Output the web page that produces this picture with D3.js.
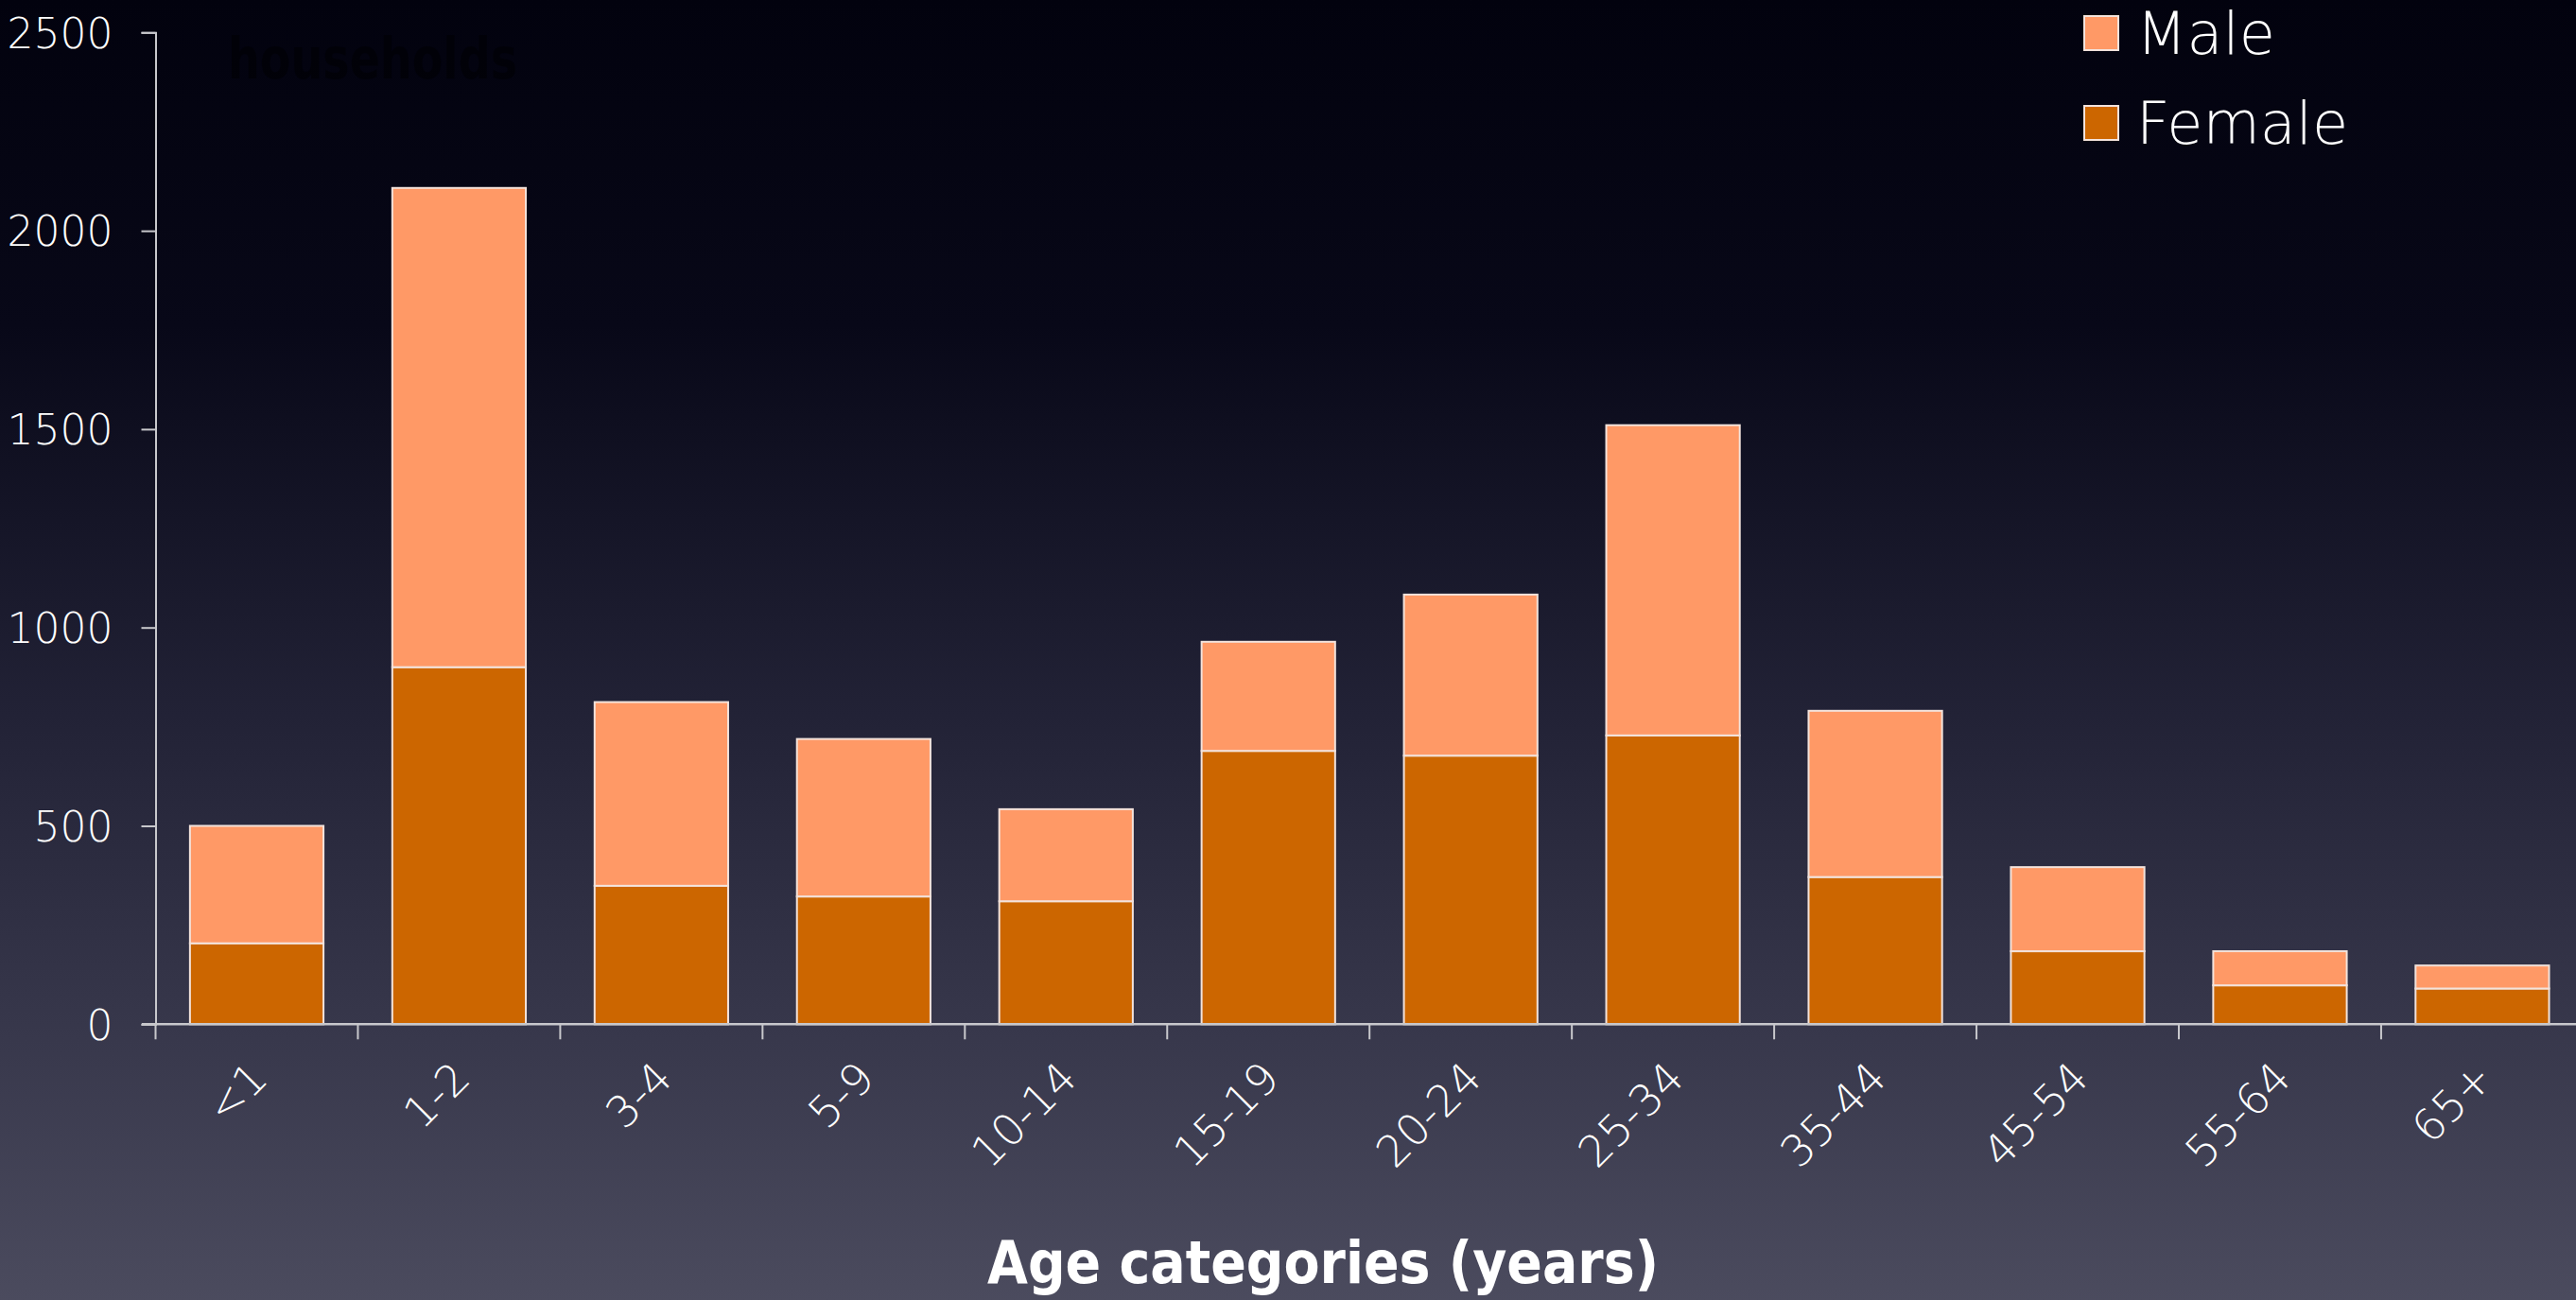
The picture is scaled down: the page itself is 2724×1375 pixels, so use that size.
<!DOCTYPE html>
<html>
<head>
<meta charset="utf-8">
<script src="https://cdn.jsdelivr.net/npm/d3@7"></script>
<style>
  html, body { margin: 0; padding: 0; background: #02020e; overflow: hidden; }
  svg { display: block; }
</style>
</head>
<body>
<svg id="chart" width="2724" height="1375"></svg>
<script>
// ---- data ----
const categories = ["<1", "1-2", "3-4", "5-9", "10-14", "15-19", "20-24", "25-34", "35-44", "45-54", "55-64", "65+"];
const femaleValues = [204, 900, 349, 322, 310, 689, 677, 728, 371, 184, 98, 90];
const maleValues   = [296, 1208, 463, 397, 232, 275, 406, 782, 419, 212, 86, 58];
const yTickValues = [0, 500, 1000, 1500, 2000, 2500];
const seriesNames = ["Male", "Female"];
const xTitle = "Age categories (years)";
const ghostTitle = "households";

// ---- layout ----
const W = 2724, H = 1375;
const x0 = 164.5, x1 = 2731.9, yBottom = 1083.3, yTop = 34.3;
const colMale = "#ff9966", colFemale = "#cc6600";
const fontFam = "'DejaVu Sans', 'Open Sans', sans-serif";

const svg = d3.select("#chart");
const defs = svg.append("defs");
const grad = defs.append("linearGradient").attr("id", "bg").attr("x1", 0).attr("y1", 0).attr("x2", 0).attr("y2", 1);
[[0, "#02020e"], [0.25, "#080818"], [0.55, "#222236"], [0.8, "#38384c"], [1, "#4b4b5e"]]
  .forEach(([o, c]) => grad.append("stop").attr("offset", o).attr("stop-color", c));
svg.append("rect").attr("width", W).attr("height", H).attr("fill", "url(#bg)");

// faint ghost text
svg.append("text").attr("x", 241).attr("y", 83)
  .attr("font-family", fontFam).attr("font-weight", "bold").attr("font-size", 60)
  .attr("textLength", 306).attr("lengthAdjust", "spacingAndGlyphs")
  .attr("fill", "#000000").attr("fill-opacity", 0.45).text(ghostTitle);

const rows = categories.map((c, i) => ({cat: c, Female: femaleValues[i], Male: maleValues[i]}));
const stack = d3.stack().keys(["Female", "Male"])(rows);

const xBand = d3.scaleBand().domain(categories).range([x0, x1]).paddingInner(0.34).paddingOuter(0.17);
const xEdge = d3.scaleBand().domain(categories).range([x0, x1]).padding(0);
const y = d3.scaleLinear().domain([0, 2500]).range([yBottom, yTop]);

const color = {Female: colFemale, Male: colMale};

// bars
svg.append("g").selectAll("g").data(stack).join("g")
  .attr("fill", d => color[d.key])
  .selectAll("rect").data(d => d).join("rect")
  .attr("x", d => xBand(d.data.cat))
  .attr("width", xBand.bandwidth())
  .attr("y", d => y(d[1]))
  .attr("height", d => y(d[0]) - y(d[1]))
  .attr("stroke", "#f3e3dc").attr("stroke-width", 2);

// y axis
const yAxis = svg.append("g").attr("transform", `translate(${x0},0)`)
  .call(d3.axisLeft(y).tickValues(yTickValues).tickSize(15).tickPadding(30).tickFormat(d3.format("d")));
yAxis.select(".domain").attr("stroke", "#c8c8cc").attr("stroke-width", 2);
yAxis.selectAll(".tick line").attr("stroke", "#c8c8cc").attr("stroke-width", 2);
yAxis.selectAll(".tick text").attr("fill", "#ffffff").attr("font-family", fontFam)
  .attr("font-weight", 200).attr("font-size", 44).attr("dy", "0.36em");

// x axis line
svg.append("line").attr("x1", 150).attr("x2", W).attr("y1", yBottom).attr("y2", yBottom)
  .attr("stroke", "#c8c8cc").attr("stroke-width", 2.5);

// x ticks at band edges
const edges = categories.map(c => xEdge(c)).concat([xEdge(categories[categories.length - 1]) + xEdge.bandwidth()]);
svg.append("g").selectAll("line").data(edges).join("line")
  .attr("x1", d => d).attr("x2", d => d)
  .attr("y1", yBottom).attr("y2", yBottom + 16)
  .attr("stroke", "#c8c8cc").attr("stroke-width", 2);

// x labels rotated
svg.append("g").selectAll("text").data(categories).join("text")
  .attr("transform", d => `translate(${xEdge(d) + xEdge.bandwidth() / 2 + 14},${1143}) rotate(-45)`)
  .attr("text-anchor", "end")
  .attr("fill", "#ffffff").attr("font-family", fontFam).attr("font-weight", 200).attr("font-size", 46)
  .text(d => d);

// x title
svg.append("text").attr("x", 1044).attr("y", 1357)
  .attr("font-family", fontFam).attr("font-weight", "bold").attr("font-size", 62)
  .attr("textLength", 710).attr("lengthAdjust", "spacingAndGlyphs")
  .attr("fill", "#ffffff").text(xTitle);

// legend
const legend = svg.append("g");
const legendY = [17, 112];
seriesNames.forEach((name, i) => {
  legend.append("rect").attr("x", 2204).attr("y", legendY[i]).attr("width", 36).attr("height", 36)
    .attr("fill", color[name]).attr("stroke", "#f3e3dc").attr("stroke-width", 2);
  legend.append("text").attr("x", 2259).attr("y", legendY[i] + 40)
    .attr("font-family", fontFam).attr("font-weight", 200).attr("font-size", 62)
    .attr("fill", "#ffffff").text(name);
});
</script>
</body>
</html>
